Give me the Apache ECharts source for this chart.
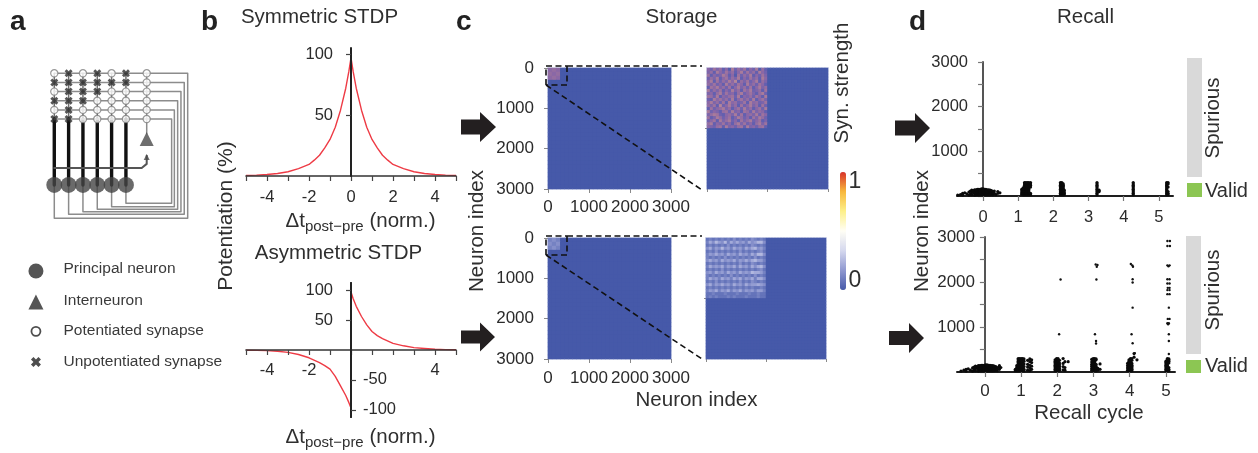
<!DOCTYPE html>
<html><head><meta charset="utf-8">
<style>html,body{margin:0;padding:0;background:#fff}#c{width:1258px;height:453px;filter:blur(0.6px)}</style>
<script src="https://cdn.jsdelivr.net/npm/echarts@6/dist/echarts.min.js"></script>
</head><body><div id="c"></div>
<script>
// ---- panel a: network schematic (column / row units) ----
const synapseRows = ['oxoxox','xxxxxx','oxxxoo','xxxooo','oxoooo','xxoooo'];
const principalColumns = [0,1,2,3,4,5];
const interneuronColumn = [6.45];
const returnWireX = [9.31,9.07,8.84,8.61,8.38,8.19];
const returnWireY = [15.85,15.41,15.12,14.86,14.58,14.21];
const neuronRow = [12.2];
const legendLabels = ['Principal neuron','Interneuron','Potentiated synapse','Unpotentiated synapse'];
const legendRows = [21.6,25,28.2,31.55];
// ---- panel b: STDP curves ----
const symT = [-5,-4.5,-4,-3.5,-3,-2.5,-2,-1.75,-1.5,-1.25,-1,-0.75,-0.5,-0.25,-0.1,0,0.1,0.25,0.5,0.75,1,1.25,1.5,1.75,2,2.5,3,3.5,4,4.5,5];
const symV = [0.4,0.7,1.2,2,3.5,6,9.5,13,17,23,30,40,54,72,86,97,86,72,54,40,30,23,17,13,9.5,6,3.5,2,1.2,0.7,0.4];
const asymPosT = [0,0.1,0.25,0.5,0.75,1,1.25,1.5,2,2.5,3,3.5,4,4.5,5];
const asymPosV = [97,86,73,56,42,31,24,19,11,7,4,2.5,1.2,0.6,0.3];
const asymNegT = [-5,-4.5,-4,-3.5,-3,-2.5,-2,-1.5,-1.25,-1,-0.75,-0.5,-0.25,-0.1,0];
const asymNegV = [-0.3,-0.6,-1,-2.2,-4,-7.5,-13,-21,-26,-32,-44,-60,-76,-88,-97];
// ---- panel c: synaptic matrices (digit = strength step) ----
const mainTopBlock = ['565','656','565'];
const mainBottomBlock = ['343','434','343'];
const insetTopBlock = [
'53746251836472538162','46285374625837462853','72534862517364825374','36482573648253746285',
'58273648592647358264','64735284637528463752','27584637258463725846','83647253846275834627',
'45268374526835742683','76382546738254637528','32857463825746382574','58463728563472856347',
'64729358462735846273','27356846257384625738','83542673845276384652','46873256483725648375',
'72486357248635274863','35728468352746835724','68254735268473526847','54367284536728453672'];
const insetBottomBlock = [
'23232323242323243232','36475473646453645774','23232324232323243232','46354745364536467453',
'23242323232423232342','35464536453645364774','32323242323232324232','46453645463546467553',
'23232323232423243232','36454635463645364674','23232423232323232342','45364536453645476653',
'32323232423232324232','36453645364635463664','23242323232423243232','46354645364536455654',
'23232323232323232232','35463546354635453553','22322232223222322322','23232223232223222322'];
const mainCells = [30]; const insetCells = [40];
const topStep = [10], bottomStep = [28];
// ---- panel d: spike rasters, each column is [cycle position, neuron indices...] ----
const recallTopCols = [
[-0.72,20],[-0.64,30],[-0.58,60,20],[-0.52,70],[-0.46,50],[-0.4,20,90],[-0.36,110,40],[-0.32,130,80,30],[-0.28,90,120],
[-0.24,140,100,60,20],[-0.2,30,70,110,140],[-0.16,150,110,70,30],[-0.12,30,70,110,150],[-0.08,150,110,70,30],[-0.04,30,70,110,160],
[0,160,110,70,30],[0.04,30,70,110,150],[0.08,150,110,70,30],[0.12,30,70,110,140],[0.16,140,100,60,30],[0.2,30,70,110,130],
[0.24,120,80,40],[0.28,30,70,100],[0.32,60,110],[0.36,30],[0.42,60,100],[0.48,70],
[1.1,40,70,110,150],[1.14,30,70,110,150,180],[1.18,30,60,90,120,150,180,210,240,270,300],[1.22,30,60,90,120,150,180,210,240,270,300],
[1.26,30,60,90,120,150,180,210,240,270,300],[1.3,30,60,90,120,150,180,210,240,270,300],[1.35,30,60,200,240,270,300],
[2.2,30,60,90,120,150,180,210,240,270,300],[2.24,30,60,90,120,150,180,210,240,270,300],[2.28,30,60,90,120,150,180,210,240,270],[2.31,30,60,90,130],
[3.24,30,60,90,120,150,180,210,240,270,300],[3.3,100,130],
[4.27,30,60,90,120,150,180,210,240,270,300],
[5.22,30,60,90,120,150,180,210,240,270,300],[5.26,30,60,100,200,270,300]];
const recallBottomCols = [
[-0.66,20],[-0.58,40],[-0.52,60,20],[-0.46,70],[-0.4,40],[-0.34,20,90],[-0.3,110,40],[-0.26,130,80,30],[-0.22,90,120],
[-0.18,140,100,60,20],[-0.14,30,70,110,140],[-0.1,150,110,70,30],[-0.06,30,70,110,150],[-0.02,150,110,70,30],[0.02,30,70,110,160],
[0.06,160,110,70,30],[0.1,30,70,110,150],[0.14,150,110,70,30],[0.18,30,70,110,140],[0.22,140,100,60,30],[0.26,30,70,110,130],
[0.3,120,80,40],[0.34,30,70,100],[0.4,60,110,140],[0.44,100],
[0.84,30,60],[0.88,30,60,100,140],[0.92,30,60,90,120,150,180,210,240,270,300],[0.96,30,60,90,120,150,180,210,240,270,300],
[1,30,60,90,120,150,180,210,240,270,300],[1.04,30,60,90,120,150,180,210,240,270,300],[1.08,30,60,120,180,240,290],
[1.18,40,110,170,260],[1.24,30,90,150,230,290],[1.29,60,130,210,270],
[1.94,30,60,90,120,150,180,210,240,270],[1.98,30,60,90,120,150,180,210,240,270,300],[2.02,30,60,90,120,150,180,210,240,270,300],[2.06,40,80,120,160,200,260],
[2.16,50,120,190,300],[2.21,40,100,230],[2.3,230],
[2.95,40,80,130,170,220,280],[2.99,30,60,90,120,150,180,210,240,270,300],[3.03,30,60,90,120,150,180,210,240,270,300],[3.07,30,60,90,130,170,270,290],
[3.12,40,80],[3.18,60,180],
[3.94,40,90,140,190],[3.98,30,60,90,120,150,180,210,240,270],[4.02,30,60,90,120,150,180,210,240,270,300],[4.06,30,60,90,120,150,190,260,300],
[4.2,270],[4.12,410,330],
[5,30,60,90,120,150,180,210,240],[5.04,30,60,90,120,150,180,210,240,270,300],[5.08,30,60,100,200,240,270,290]];
const recallBottomSpurious = [
[2.09,2056],[2.05,840],
[3.06,2390],[3.09,2340],[3.11,2380],[3.08,2056],[3.04,840],[3.07,690],[3.07,634],
[4.03,2400],[4.07,2370],[4.09,2340],[4.08,2060],[4.08,1990],[4.08,1430],[4.05,840],[4.08,640],[4.14,420],
[5.04,2910],[5.11,2910],[5.04,2800],[5.11,2800],[5.04,2370],[5.07,2350],[5.1,2370],[5.04,2060],[5.1,2060],[5.04,1968],[5.1,1968],
[5.05,1870],[5.1,1870],[5.04,1820],[5.1,1820],[5.04,1730],[5.1,1730],[5.08,1430],[5.05,1180],[5.1,1180],[5.04,1083],[5.08,1083],[5.06,1060],[5.08,840],[5.08,690],[5.08,400]];
const recallTicks = [0,1,2,3,4,5];
const neuronTicks = [0,500,1000,1500,2000,2500,3000];
const neuronLabels = [0,1000,2000,3000];

const FONT = '"Liberation Sans",Arial,sans-serif';
const INK = '#2b2b2b', BLUE = '#4659a9', RED = '#ee3b45';
const grid = [], xAxis = [], yAxis = [], series = [];
function addGrid(l,t,w,h,extra){ grid.push(Object.assign({left:l,top:t,width:w,height:h,containLabel:false},extra||{})); return grid.length-1; }
function addX(o){ xAxis.push(o); return xAxis.length-1; }
function addY(o){ yAxis.push(o); return yAxis.length-1; }
const noAxis = (g,min,max,inv)=>({type:'value',gridIndex:g,min,max,inverse:!!inv,show:false});
const lbl = (size,margin,extra)=>Object.assign({color:INK,fontFamily:FONT,fontSize:size,margin,hideOverlap:false,showMinLabel:true,showMaxLabel:true,formatter:v=>String(v)},extra||{});

// ---- panel a ----
const gA = addGrid(11.3,64.15,200.6,311.1);
const xA = addX(noAxis(gA,-3,11)), yA = addY(noAxis(gA,-1,33,true));
function wire(points,color,width){ series.push({type:'line',xAxisIndex:xA,yAxisIndex:yA,data:points,showSymbol:false,symbol:'none',silent:true,z:2,lineStyle:{color,width,cap:'round',join:'round'}}); }
principalColumns.forEach(i=>{
  wire([[principalColumns[0],i],[returnWireX[i],i],[returnWireX[i],returnWireY[i]],[i,returnWireY[i]],[i,neuronRow[0]]],'#8c8c8c',1.5);
  wire([[i,0],[i,5]],'#6c6c6c',1.5);
  wire([[i,5],[i,neuronRow[0]]],'#111',3.4);
});
wire([[interneuronColumn[0],0],[interneuronColumn[0],6.6]],'#8c8c8c',1.5);
wire([[0,10.35],[6.1,10.35],[interneuronColumn[0],9.9],[interneuronColumn[0],9]],'#555',2);
const XBOLD='path://M2.5 0L5 2.5L7.5 0L10 2.5L7.5 5L10 7.5L7.5 10L5 7.5L2.5 10L0 7.5L2.5 5L0 2.5Z';
const synOpen=[], synX=[];
synapseRows.forEach((row,r)=>{ row.split('').forEach((s,c)=>{(s==='o'?synOpen:synX).push([c,r]);}); synOpen.push([interneuronColumn[0],r]); });
const sc=(data,symbol,size,color,border,bw)=>series.push({type:'scatter',xAxisIndex:xA,yAxisIndex:yA,data,symbol,symbolSize:size,silent:true,z:4,itemStyle:{color,borderColor:border||color,borderWidth:bw||0}});
sc(synOpen,'circle',7.2,'#fff','#808080',1.2);
sc(synX,XBOLD,8,'#2c2c2c');
sc(principalColumns.map(c=>[c,neuronRow[0]]),'circle',16,'#454545');
sc([[interneuronColumn[0],7.18]],'triangle',14,'#4a4a4a');
sc([[interneuronColumn[0],9.15]],'triangle',6,'#4a4a4a');
sc([[-1.28,legendRows[0]]],'circle',15,'#2a2a2a');
sc([[-1.28,legendRows[1]]],'triangle',15,'#2a2a2a');
sc([[-1.28,legendRows[2]]],'circle',9,'#fff','#222',1.8);
sc([[-1.28,legendRows[3]]],XBOLD,10,'#222');

// ---- panel b ----
const bXTicks=[-5,-4,-3,-2,-1,0,1,2,3,4,5];
function bAxes(g,labels,labelMargin){
  return addX({type:'value',gridIndex:g,min:-5,max:5,z:5,
    axisLine:{onZero:true,lineStyle:{color:'#333',width:1.6}},
    axisTick:{length:5,customValues:bXTicks,lineStyle:{color:'#444',width:1.2}},splitLine:{show:false},
    axisLabel:lbl(16.5,labelMargin,{customValues:labels})});
}
// axis labels of an on-zero axis stay at the grid edge, so the margin brings them back beside the axis
const yAxisBase=(g,min,max,pos,vals,margin)=>({type:'value',gridIndex:g,min,max,position:pos,z:6,
  axisLine:{onZero:true,lineStyle:{color:'#222',width:2}},
  axisTick:{length:5,customValues:vals,lineStyle:{color:'#444',width:1.2}},splitLine:{show:false},
  axisLabel:lbl(16.5,margin,{customValues:vals})});
const curve=(xi,yi,ts,vs)=>series.push({type:'line',xAxisIndex:xi,yAxisIndex:yi,data:ts.map((t,i)=>[t,vs[i]]),showSymbol:false,symbol:'none',silent:true,z:2,lineStyle:{color:RED,width:1.4,join:'round'}});
const gB1=addGrid(246,48,210,128);
const xB1=bAxes(gB1,[-4,-2,0,2,4],13); const yB1=addY(yAxisBase(gB1,0,105,'left',[50,100],-87));
curve(xB1,yB1,symT,symV);
const gB2=addGrid(246,283,210,134);
const xB2=bAxes(gB2,[-4,-2,4],-55);
addX({type:'value',gridIndex:gB2,min:-5,max:5,show:false,axisLine:{onZero:false}});
const yB2=addY(yAxisBase(gB2,-112,112,'left',[50,100],-87)); const yB2R=addY(yAxisBase(gB2,-112,112,'right',[-50,-100],-93));
curve(xB2,yB2,asymPosT,asymPosV); curve(xB2,yB2,asymNegT,asymNegV);

// ---- panel c ----
function cellsFrom(size,block,step){ const out=[]; for(let r=0;r<size;r++)for(let c=0;c<size;c++){ const s=block[r]; const d=s&&c<s.length?+s[c]:0; out.push([c,r,d/step]); } return out; }
function heat(l,t,w,h,size,block,step,isMain,xLabelMargin){
  const g=addGrid(l,t,w,h,{show:true,borderColor:'#dde1f1',borderWidth:2,backgroundColor:BLUE});
  const cats=Array.from({length:size},(_,i)=>String(i));
  const hx=addX({type:'category',gridIndex:g,data:cats,show:false});
  const hy=addY({type:'category',gridIndex:g,data:cats,inverse:true,show:false});
  const tickStyle={color:'#8a8a8a',width:1};
  addX(isMain?{type:'value',gridIndex:g,min:0,max:3000,position:'bottom',axisLine:{show:false},axisTick:{length:4,customValues:neuronLabels,lineStyle:tickStyle},splitLine:{show:false},axisLabel:lbl(17,xLabelMargin,{customValues:neuronLabels})}
    :{type:'value',gridIndex:g,min:0,max:600,position:'bottom',axisLine:{show:false},axisTick:{length:3,customValues:[0,300,600],lineStyle:tickStyle},splitLine:{show:false},axisLabel:{show:false}});
  addY(isMain?{type:'value',gridIndex:g,min:0,max:3000,inverse:true,position:'left',axisLine:{show:false},axisTick:{length:4,customValues:neuronLabels,lineStyle:tickStyle},splitLine:{show:false},axisLabel:lbl(17,14,{customValues:neuronLabels})}
    :{type:'value',gridIndex:g,min:0,max:600,inverse:true,position:'left',axisLine:{show:false},axisTick:{length:2,customValues:[300],lineStyle:tickStyle},splitLine:{show:false},axisLabel:{show:false}});
  series.push({type:'heatmap',xAxisIndex:hx,yAxisIndex:hy,data:cellsFrom(size,block,step),silent:true,progressive:0,itemStyle:{borderWidth:0}});
  return series.length-1;
}
const sMainTop=heat(548,68,123,121,mainCells[0],mainTopBlock,topStep[0],true,10);
const sInsetTop=heat(707,68,121,121,insetCells[0],insetTopBlock,topStep[0],false);
const sMainBot=heat(548,238,123,121,mainCells[0],mainBottomBlock,bottomStep[0],true,11);
const sInsetBot=heat(706,238,120,121,insetCells[0],insetBottomBlock,bottomStep[0],false);

// ---- panel d ----
const flat=cols=>{const o=[];cols.forEach(c=>{for(let i=1;i<c.length;i++)o.push([c[0],c[i]]);});return o;};
function raster(l,t,w,h,xMin,xMax,dense,sparse,lblSize,xMargin,yMargin){
  const g=addGrid(l,t,w,h);
  const x=addX({type:'value',gridIndex:g,min:xMin,max:xMax,z:5,axisLine:{onZero:false,lineStyle:{color:'#1e1e1e',width:2}},
    axisTick:{length:5,customValues:recallTicks,lineStyle:{color:'#777',width:1.2}},splitLine:{show:false},axisLabel:lbl(lblSize,xMargin,{customValues:recallTicks})});
  const y=addY({type:'value',gridIndex:g,min:0,max:3000,z:4,axisLine:{onZero:true,lineStyle:{color:'#555',width:2}},
    axisTick:{length:5,customValues:neuronTicks,lineStyle:{color:'#777',width:1.2}},splitLine:{show:false},axisLabel:lbl(lblSize,yMargin,{customValues:neuronLabels.slice(1)})});
  series.push({type:'scatter',xAxisIndex:x,yAxisIndex:y,data:flat(dense),symbolSize:3.2,silent:true,z:6,itemStyle:{color:'#0a0a0a',opacity:1}});
  if(sparse) series.push({type:'scatter',xAxisIndex:x,yAxisIndex:y,data:sparse,symbolSize:2.4,silent:true,z:6,itemStyle:{color:'#111',opacity:1}});
}
raster(957,62,216,134,-0.74,5.4,recallTopCols,null,16.5,13,-11);
raster(957,237,218,135,-0.77,5.25,recallBottomCols,recallBottomSpurious,17,11,-18);

// ---- annotations ----
const T=(text,x,y,size,o)=>Object.assign({type:'text',x,y,z:100,silent:true,rotation:(o&&o.rot)||0,
  style:Object.assign({text,font:((o&&o.bold)?'bold ':'')+size+'px '+FONT,fill:(o&&o.fill)||'#2f2f2f',align:(o&&o.align)||'center',verticalAlign:'middle'},(o&&o.style)||{})});
const UP=Math.PI/2;
const arrow=(x0,x1,xh,cy,hh,sh)=>({type:'polygon',z:100,silent:true,shape:{points:[[x0,cy-sh],[xh,cy-sh],[xh,cy-hh],[x1,cy],[xh,cy+hh],[xh,cy+sh],[x0,cy+sh]]},style:{fill:'#231f20'}});
const dash=(x1,y1,x2,y2)=>({type:'line',z:100,silent:true,shape:{x1,y1,x2,y2},style:{stroke:'#111',lineWidth:1.6,lineDash:[6,3.5]}});
const sub=(x,y)=>T('{a|Δt}{b|post−pre}{a| (norm.)}',x,y,20,{style:{rich:{a:{font:'20.5px '+FONT,fill:'#2f2f2f',lineHeight:26},b:{font:'15px '+FONT,fill:'#2f2f2f',lineHeight:15,verticalAlign:'bottom'}}}});
const graphic=[
  T('a',10,22,28,{bold:true,align:'left',fill:'#222'}),T('b',201,22,28,{bold:true,align:'left',fill:'#222'}),
  T('c',456,22,28,{bold:true,align:'left',fill:'#222'}),T('d',909,22,28,{bold:true,align:'left',fill:'#222'}),
  T('Symmetric STDP',319.5,17,20.5),T('Asymmetric STDP',338.5,253,20.5),T('Storage',681.5,17,20.5),T('Recall',1085.5,17,20.5),
  T('Potentiation (%)',226.5,216,21,{rot:UP}),
  sub(360.5,221),sub(360.5,437),
  T('Neuron index',477.5,231,20.5,{rot:UP}),T('Neuron index',696.5,400,20.5),
  T('Neuron index',922,231,20.5,{rot:UP}),T('Recall cycle',1089,413,20.5),
  T('Syn. strength',842,83,20.5,{rot:UP}),T('1',855,182,23),T('0',855,281,23),
  T('Spurious',1213,118,20.5,{rot:UP}),T('Spurious',1213,290,20.5,{rot:UP}),
  T('Valid',1205,191,20,{align:'left'}),T('Valid',1205,366,20,{align:'left'}),
  {type:'rect',z:90,silent:true,shape:{x:1187,y:58,width:15,height:119},style:{fill:'#d9d9d9'}},
  {type:'rect',z:90,silent:true,shape:{x:1187,y:183,width:15,height:14},style:{fill:'#8cc653'}},
  {type:'rect',z:90,silent:true,shape:{x:1186,y:236,width:15,height:118},style:{fill:'#d9d9d9'}},
  {type:'rect',z:90,silent:true,shape:{x:1186,y:360,width:15,height:13},style:{fill:'#8cc653'}},
  arrow(461,496,480,127,15,7.5),arrow(461,495,480,337,14.5,6.5),arrow(895,930,915,128,15,7.5),arrow(889,924,909,338,15,7),
  dash(546,66,567,66),dash(567,66,567,85),dash(567,85,546,85),dash(546,85,546,66),dash(567,66,702,66),dash(546,85,702,190),
  dash(546,236,567,236),dash(567,236,567,255),dash(567,255,546,255),dash(546,255,546,236),dash(567,236,702,236),dash(546,255,702,359)
];
legendLabels.forEach((t,i)=>graphic.push(T(t,63.5,[269,301,331,362][i],15.5,{align:'left',fill:'#3a3a3a'})));

const chart=echarts.init(document.getElementById('c'),null,{renderer:'canvas',width:1258,height:453});
chart.setOption({
  animation:false,backgroundColor:'#fff',textStyle:{fontFamily:FONT},
  grid,xAxis,yAxis,series,graphic,
  visualMap:[
    {type:'continuous',min:0,max:1,dimension:2,seriesIndex:[sMainBot,sInsetBot],calculable:false,realtime:false,left:825,top:157,itemWidth:6,itemHeight:118,text:null,showLabel:false,
     inRange:{color:['#4659a9','#8f98d0','#d5d8ee','#fffef5','#fdf08a','#f8b83c','#d8322a']}},
    {type:'continuous',show:false,min:0,max:1,dimension:2,seriesIndex:[sMainTop,sInsetTop],
     inRange:{color:['#4659a9','#6a60b0','#8a68a6','#a3769c','#bd9098']}}
  ]
});
</script></body></html>
